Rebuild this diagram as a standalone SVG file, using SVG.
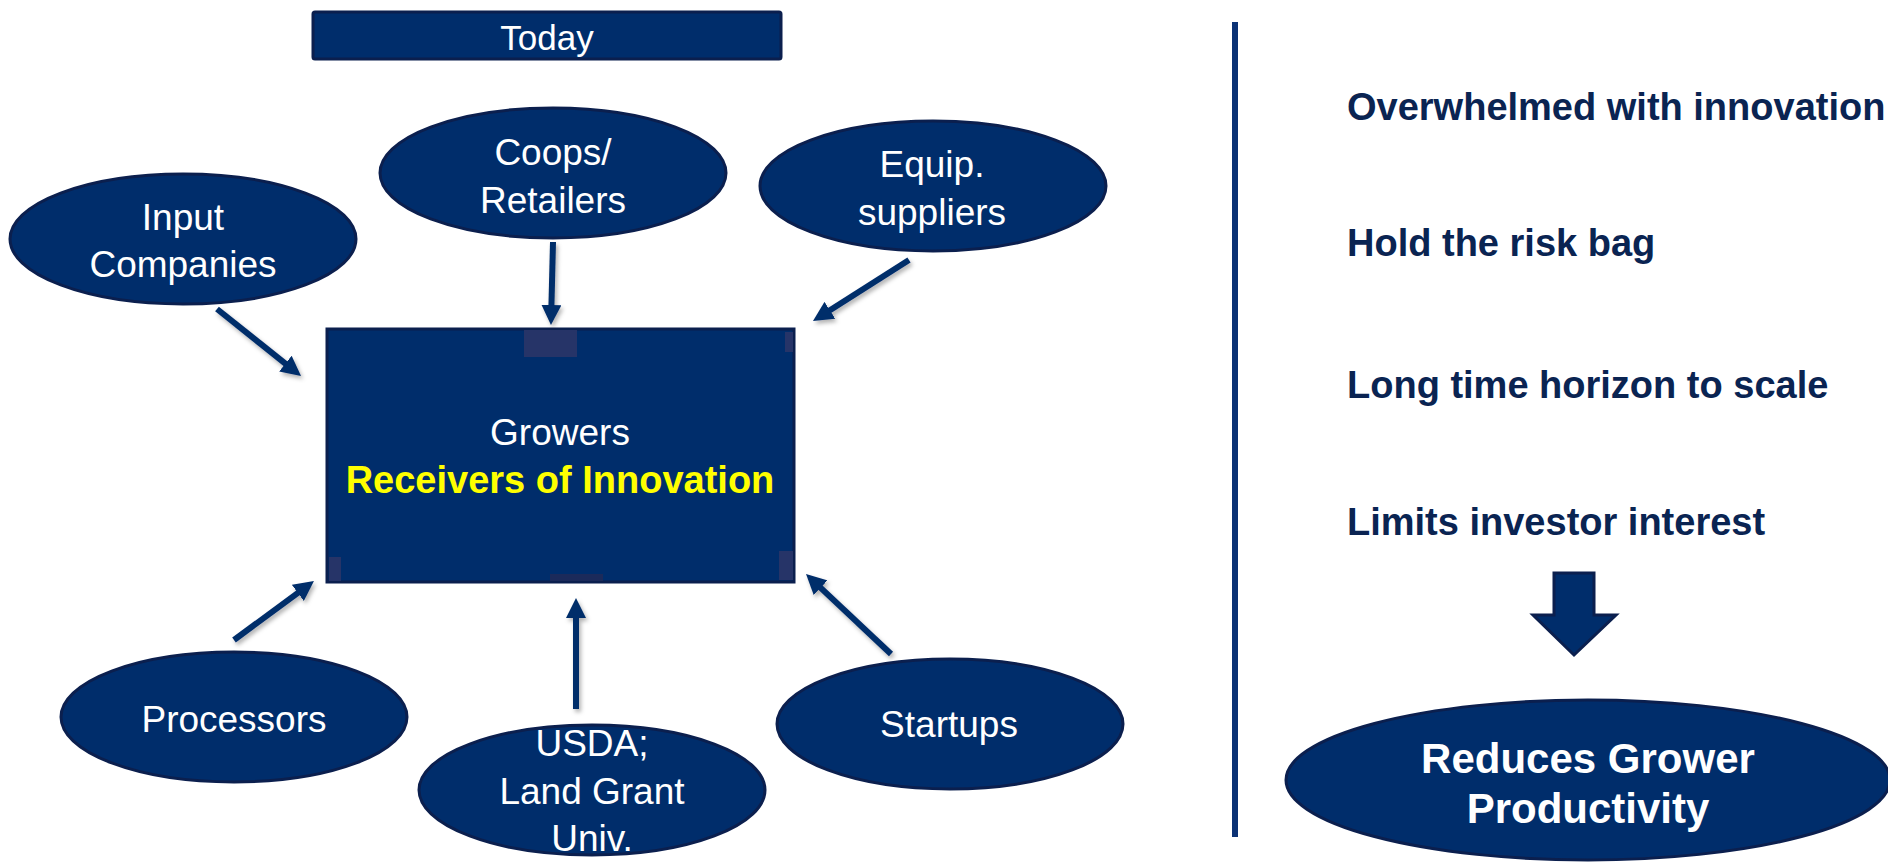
<svg xmlns="http://www.w3.org/2000/svg" width="1888" height="862" viewBox="0 0 1888 862">
<style>
.node{fill:#002d6b;stroke:#0b1f4e;stroke-width:3}
.lbl{font-family:"Liberation Sans",Arial,sans-serif;font-size:37px;fill:#ffffff;text-anchor:middle}
.side{font-family:"Liberation Sans",Arial,sans-serif;font-size:38px;font-weight:bold;fill:#0a2452}
.conn{stroke:#002d6b;stroke-width:6;fill:none;marker-end:url(#ah)}
.patch{fill:#263468}
</style>
<defs>
<marker id="ah" markerUnits="userSpaceOnUse" markerWidth="20" markerHeight="20" viewBox="0 0 20 20" refX="6" refY="10" orient="auto">
<path d="M0,0 L20,10 L0,20 z" fill="#002d6b"/>
</marker>
<filter id="sh" filterUnits="userSpaceOnUse" x="0" y="0" width="1888" height="862">
<feDropShadow dx="2" dy="3" stdDeviation="2" flood-color="#000" flood-opacity="0.3"/>
</filter>
</defs>
<rect width="1888" height="862" fill="#ffffff"/>

<g id="today">
<rect x="313" y="12" width="468" height="47" rx="2" class="node" stroke-width="2"/>
<text x="547" y="50" class="lbl" style="font-size:35px">Today</text>
</g>

<g id="growers">
<rect x="327" y="329" width="467" height="253" class="node"/>
<rect class="patch" x="524" y="330" width="53" height="27"/>
<rect class="patch" x="785" y="332" width="8" height="20"/>
<rect class="patch" x="329" y="557" width="12" height="24"/>
<rect class="patch" x="779" y="551" width="14" height="29"/>
<rect fill="#1b2a5a" x="550" y="574" width="53" height="7"/>
<text x="560" y="445" class="lbl">Growers</text>
<text x="560" y="493" class="lbl" style="font-weight:bold;fill:#ffff00;font-size:38px">Receivers of Innovation</text>
</g>

<g id="input">
<ellipse cx="183" cy="239" rx="173" ry="65" class="node"/>
<text x="183" y="230" class="lbl">Input</text>
<text x="183" y="277" class="lbl">Companies</text>
</g>

<g id="coops">
<ellipse cx="553" cy="173" rx="173" ry="65" class="node"/>
<text x="553" y="165" class="lbl">Coops/</text>
<text x="553" y="213" class="lbl">Retailers</text>
</g>

<g id="equip">
<ellipse cx="933" cy="186" rx="173" ry="65" class="node"/>
<text x="932" y="177" class="lbl">Equip.</text>
<text x="932" y="225" class="lbl">suppliers</text>
</g>

<g id="processors">
<ellipse cx="234" cy="717" rx="173" ry="65" class="node"/>
<text x="234" y="732" class="lbl">Processors</text>
</g>

<g id="usda">
<ellipse cx="592" cy="790" rx="173" ry="65" class="node"/>
<text x="592" y="756" class="lbl">USDA;</text>
<text x="592" y="804" class="lbl">Land Grant</text>
<text x="592" y="851" class="lbl">Univ.</text>
</g>

<g id="startups">
<ellipse cx="950" cy="724" rx="173" ry="65" class="node"/>
<text x="949" y="737" class="lbl">Startups</text>
</g>

<g id="connectors" filter="url(#sh)">
<line class="conn" x1="217" y1="309" x2="290.1" y2="367.3"/>
<line class="conn" x1="553" y1="242" x2="551.3" y2="311"/>
<line class="conn" x1="909" y1="260" x2="824.8" y2="313.5"/>
<line class="conn" x1="234" y1="640" x2="302.7" y2="589.3"/>
<line class="conn" x1="576" y1="709" x2="576" y2="612"/>
<line class="conn" x1="891" y1="654" x2="816.2" y2="583.6"/>
</g>

<g id="divider">
<rect x="1232" y="22" width="6" height="815" fill="#0b3275"/>
</g>

<g id="side-points">
<text x="1347" y="120" class="side">Overwhelmed with innovation</text>
<text x="1347" y="256" class="side">Hold the risk bag</text>
<text x="1347" y="398" class="side">Long time horizon to scale</text>
<text x="1347" y="535" class="side">Limits investor interest</text>
</g>

<g id="down-arrow">
<path d="M1554,573 L1594,573 L1594,615 L1616,615 L1574,655 L1533,615 L1554,615 z" class="node" stroke-width="2.5"/>
</g>

<g id="reduces">
<ellipse cx="1588" cy="780" rx="302" ry="80" class="node"/>
<text x="1588" y="773" class="lbl" style="font-weight:bold;font-size:42px">Reduces Grower</text>
<text x="1588" y="823" class="lbl" style="font-weight:bold;font-size:42px">Productivity</text>
</g>
</svg>
